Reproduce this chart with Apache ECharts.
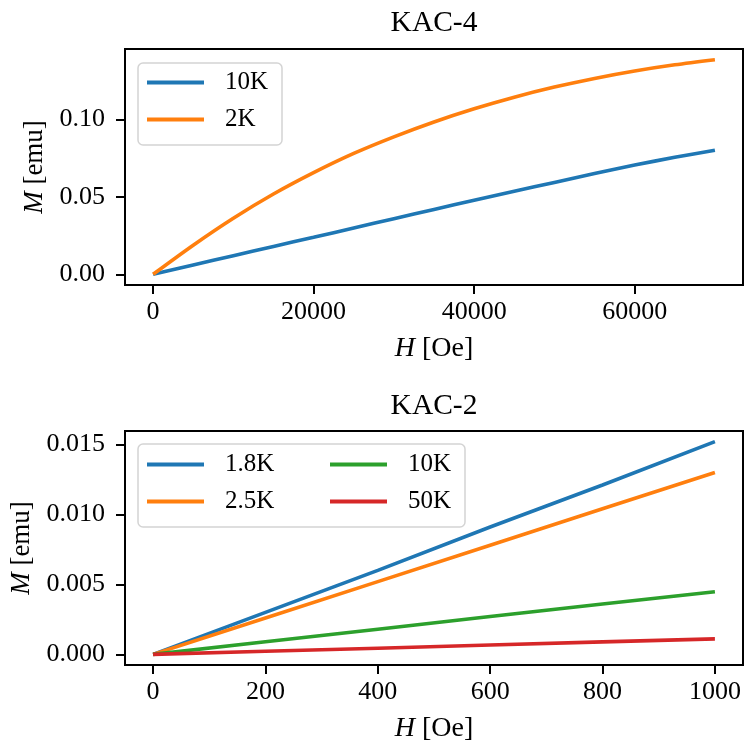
<!DOCTYPE html>
<html>
<head>
<meta charset="utf-8">
<script src="https://cdn.jsdelivr.net/npm/echarts@6/dist/echarts.min.js"></script>
<style>
    html, body { margin: 0; padding: 0; background: #fff; }
    #chart { width: 745px; height: 744px; }
</style>
</head>
<body>
<div id="chart"></div>
<script>
    // KAC-4 (top panel)
    const fieldKac4 = [0, 5000, 10000, 15000, 20000, 25000, 30000, 35000, 40000, 45000, 50000, 55000, 60000, 65000, 70000];
    const kac4_10K = [0, 0.0060, 0.0120, 0.0180, 0.0239, 0.0299, 0.0359, 0.0419, 0.0478, 0.0536, 0.0593, 0.0650, 0.0705, 0.0755, 0.0801];
    const kac4_2K = [0, 0.0188, 0.0362, 0.0518, 0.0656, 0.0780, 0.0887, 0.0983, 0.1068, 0.1143, 0.1208, 0.1264, 0.1312, 0.1352, 0.1385];
    const kac4XTicks = [0, 20000, 40000, 60000];
    const kac4YTicks = [0, 0.05, 0.10];

    // KAC-2 (bottom panel)
    const fieldKac2 = [0, 200, 400, 600, 800, 1000];
    const kac2_1p8K = [0, 0.0030, 0.0060, 0.0091, 0.0121, 0.0152];
    const kac2_2p5K = [0, 0.0026, 0.0052, 0.0078, 0.0104, 0.0130];
    const kac2_10K = [0, 0.0009, 0.0018, 0.0027, 0.0036, 0.00448];
    const kac2_50K = [0, 0.00022, 0.00044, 0.00067, 0.00089, 0.00111];
    const kac2XTicks = [0, 200, 400, 600, 800, 1000];
    const kac2YTicks = [0, 0.005, 0.010, 0.015];

    const FONT = '"Liberation Serif", "DejaVu Serif", serif';
    const C = ['#1f77b4', '#ff7f0e', '#2ca02c', '#d62728'];

    function pairs(xs, ys) {
        return xs.map((x, i) => [x, ys[i]]);
    }

    function xAxisCfg(idx, min, max, ticks) {
        return {
            type: 'value', gridIndex: idx, min: min, max: max,
            name: '{i|H} [Oe]', nameLocation: 'middle', nameGap: 50,
            nameTextStyle: {
                fontFamily: FONT, fontSize: 28, color: '#000',
                rich: { i: { fontFamily: FONT, fontSize: 28, fontStyle: 'italic', color: '#000' } }
            },
            axisLine: { show: false, onZero: false },
            axisTick: { show: true, inside: false, length: 9, lineStyle: { color: '#000', width: 2 }, customValues: ticks },
            axisLabel: {
                color: '#000', fontFamily: FONT, fontSize: 26, margin: 14, customValues: ticks,
                formatter: v => String(v)
            },
            splitLine: { show: false }
        };
    }

    function yAxisCfg(idx, min, max, ticks, digits) {
        return {
            type: 'value', gridIndex: idx, min: min, max: max,
            name: '{i|M} [emu]', nameLocation: 'middle', nameGap: 74, nameRotate: 90,
            nameTextStyle: {
                fontFamily: FONT, fontSize: 27, color: '#000',
                rich: { i: { fontFamily: FONT, fontSize: 27, fontStyle: 'italic', color: '#000' } }
            },
            axisLine: { show: false, onZero: false },
            axisTick: { show: true, inside: false, length: 9, lineStyle: { color: '#000', width: 2 }, customValues: ticks },
            axisLabel: {
                color: '#000', fontFamily: FONT, fontSize: 26, margin: 20, customValues: ticks,
                formatter: v => v.toFixed(digits)
            },
            splitLine: { show: false }
        };
    }

    function lineSeries(name, xi, yi, data, color, smooth) {
        return {
            name: name, type: 'line', xAxisIndex: xi, yAxisIndex: yi,
            data: data, showSymbol: false, symbol: 'none', animation: false,
            smooth: smooth,
            lineStyle: { color: color, width: 3.6 }, itemStyle: { color: color }
        };
    }

    function legendCfg(names, left, top) {
        return {
            data: names, orient: 'vertical', left: left, top: top, padding: 0,
            icon: 'rect', itemWidth: 57, itemHeight: 4, itemGap: 12, z: 6,
            textStyle: { fontFamily: FONT, fontSize: 25, color: '#000', lineHeight: 25, padding: [0, 0, 0, 16] }
        };
    }

    let myChart = echarts.init(document.getElementById('chart'));
    let option = {
        animation: false,
        backgroundColor: '#fff',
        title: [
            { text: 'KAC-4', left: 434, top: 8, textAlign: 'center', padding: 0,
              textStyle: { fontFamily: FONT, fontSize: 29.5, fontWeight: 'normal', color: '#000' } },
            { text: 'KAC-2', left: 434, top: 391, textAlign: 'center', padding: 0,
              textStyle: { fontFamily: FONT, fontSize: 29.5, fontWeight: 'normal', color: '#000' } }
        ],
        grid: [
            { left: 125, top: 49, width: 618, height: 236, show: true, borderColor: '#000', borderWidth: 2, backgroundColor: 'transparent' },
            { left: 125, top: 431, width: 618, height: 236, show: true, borderColor: '#000', borderWidth: 2, backgroundColor: 'transparent' }
        ],
        xAxis: [
            xAxisCfg(0, -3500, 73500, kac4XTicks),
            xAxisCfg(1, -50, 1050, kac2XTicks)
        ],
        yAxis: [
            yAxisCfg(0, -0.0069, 0.1454, kac4YTicks, 2),
            yAxisCfg(1, -0.00076, 0.01596, kac2YTicks, 3)
        ],
        legend: [
            legendCfg(['10K', '2K'], 147, 70),
            legendCfg(['1.8K', '2.5K'], 147, 452),
            legendCfg(['10K ', '50K'], 330, 452)
        ],
        graphic: [
            { type: 'rect', z: 5, shape: { x: 138, y: 63, width: 144, height: 82, r: 5 },
              style: { fill: 'rgba(255,255,255,0.8)', stroke: '#d4d4d4', lineWidth: 1.5 } },
            { type: 'rect', z: 5, shape: { x: 138, y: 444, width: 327, height: 83, r: 5 },
              style: { fill: 'rgba(255,255,255,0.8)', stroke: '#d4d4d4', lineWidth: 1.5 } }
        ],
        series: [
            lineSeries('10K', 0, 0, pairs(fieldKac4, kac4_10K), C[0], 0.3),
            lineSeries('2K', 0, 0, pairs(fieldKac4, kac4_2K), C[1], 0.3),
            lineSeries('1.8K', 1, 1, pairs(fieldKac2, kac2_1p8K), C[0], false),
            lineSeries('2.5K', 1, 1, pairs(fieldKac2, kac2_2p5K), C[1], false),
            lineSeries('10K ', 1, 1, pairs(fieldKac2, kac2_10K), C[2], false),
            lineSeries('50K', 1, 1, pairs(fieldKac2, kac2_50K), C[3], false)
        ]
    };
    myChart.setOption(option);
</script>
</body>
</html>
